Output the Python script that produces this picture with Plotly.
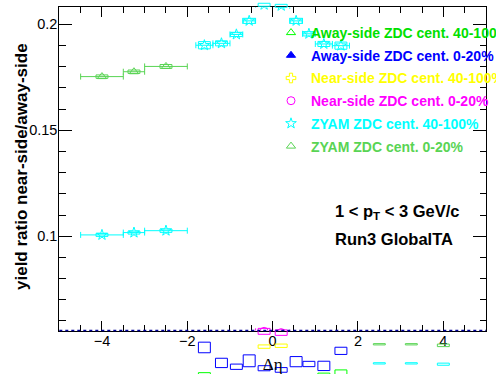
import plotly.graph_objects as go

# ---------------- data ----------------
# ZYAM ZDC cent. 0-20%
zyam020_x = [-4.0, -3.25, -2.5, 2.5, 3.25, 4.0]
zyam020_xerr = [0.5, 0.25, 0.5, 0.5, 0.25, 0.5]
zyam020_y = [0.1753, 0.1776, 0.1801, 0.0490, 0.0490, 0.0485]
zyam020_sys = [0.0008, 0.0008, 0.0009, 0.0003, 0.0003, 0.0006]

# ZYAM ZDC cent. 40-100%
zyam40_x = [-4.0, -3.25, -2.5, -1.6, -1.2, -0.85, -0.55, -0.2, 0.2, 0.55, 0.85, 1.2, 1.6, 2.5, 3.25, 4.0]
zyam40_xerr = [0.5, 0.25, 0.5, 0.2, 0.2, 0.15, 0.15, 0.2, 0.2, 0.15, 0.15, 0.2, 0.2, 0.5, 0.25, 0.5]
zyam40_y = [0.1006, 0.1017, 0.1026, 0.1901, 0.1910, 0.1952, 0.2016, 0.2092, 0.2087, 0.2016, 0.1955, 0.1907, 0.1899,
            0.0400, 0.0400, 0.0396]
zyam40_sys = [0.0007, 0.0007, 0.0008, 0.0017, 0.0012, 0.0010, 0.0012, 0.0007, 0.0007, 0.0012, 0.0010, 0.0012, 0.0017,
              0.0003, 0.0003, 0.0005]

# inner delta-eta bins
inner_x = [-1.6, -1.2, -0.85, -0.55, -0.2, 0.2, 0.55, 0.85, 1.2, 1.6]
inner_xerr = [0.2, 0.2, 0.15, 0.15, 0.2, 0.2, 0.15, 0.15, 0.2, 0.2]

# Away-side ZDC cent. 0-20%
away020_y = [0.0475, 0.0402, 0.0384, 0.0412, 0.0377, 0.0369, 0.0408, 0.0397, 0.0388, 0.0459]
away020_sys = [0.0025, 0.0022, 0.00125, 0.0028, 0.0012, 0.0011, 0.0024, 0.00125, 0.0022, 0.0017]

# Away-side ZDC cent. 40-100% (most boxes fall below the visible canvas)
away40_y = [0.0336, 0.0320, 0.0315, 0.0322, 0.0312, 0.0310, 0.0318, 0.0316, 0.0334, 0.0349]
away40_sys = [0.0020, 0.0018, 0.0012, 0.0020, 0.0010, 0.0010, 0.0018, 0.0012, 0.0020, 0.0020]

# Near-side (only the two central bins)
near_x = [-0.2, 0.2]
near_xerr = [0.2, 0.2]
near40_y = [0.0479, 0.0483]
near40_sys = [0.0008, 0.0008]
near020_y = [0.0551, 0.0545]
near020_sys = [0.0014, 0.0013]

# ---------------- styling / geometry ----------------
W, H = 496, 374
L, R, T, B = 59.3, 486.0, 7.3, 330.5
XMIN, XMAX = -5.0, 5.0
YMIN, YMAX = 0.0555, 0.208
BOXW = 0.14

px_x = (R - L) / (XMAX - XMIN)
px_y = (B - T) / (YMAX - YMIN)
X2 = [XMIN - L / px_x, XMAX + (W - R) / px_x]
Y2 = [YMIN - (H - B) / px_y, YMAX + T / px_y]

C_AWAY40 = "#00ff00"
C_AWAY020 = "#0000ff"
C_NEAR40 = "#ffff00"
C_NEAR020 = "#ff00ff"
C_ZYAM40 = "#00ffff"
C_ZYAM020 = "#59d454"
C_AWAY40_TXT = "#00e000"
C_NEAR40_TXT = "#ffff00"

FONT = "Liberation Sans"

fig = go.Figure()


def add_series(name, x, xerr, y, color, symbol, txtcolor=None):
    fig.add_trace(go.Scatter(
        x=x, y=y, mode="markers",
        name='<span style="color:%s">%s</span>' % (txtcolor or color, name), legendgroup=name,
        marker=dict(symbol=symbol, size=8, color=color, line=dict(color=color, width=1)),
        error_x=dict(type="data", array=xerr, width=3, thickness=1, color=color),
        xaxis="x", yaxis="y",
    ))


def add_boxes(x, y, sys, color):
    bx, by = [], []
    for xi, yi, si in zip(x, y, sys):
        bx += [xi - BOXW, xi + BOXW, xi + BOXW, xi - BOXW, xi - BOXW, None]
        by += [yi - si, yi - si, yi + si, yi + si, yi - si, None]
    fig.add_trace(go.Scatter(x=bx, y=by, mode="lines", line=dict(color=color, width=1),
                             showlegend=False, hoverinfo="skip", xaxis="x2", yaxis="y2"))


add_series("Away-side ZDC cent. 40-100%", inner_x, inner_xerr, away40_y, C_AWAY40, "triangle-up-open", C_AWAY40_TXT)
add_series("Away-side ZDC cent. 0-20%", inner_x, inner_xerr, away020_y, C_AWAY020, "triangle-up")
add_series("Near-side ZDC cent. 40-100%", near_x, near_xerr, near40_y, C_NEAR40, "cross-open", C_NEAR40_TXT)
add_series("Near-side ZDC cent. 0-20%", near_x, near_xerr, near020_y, C_NEAR020, "circle-open")
add_series("ZYAM ZDC cent. 40-100%", zyam40_x, zyam40_xerr, zyam40_y, C_ZYAM40, "star-open")
add_series("ZYAM ZDC cent. 0-20%", zyam020_x, zyam020_xerr, zyam020_y, C_ZYAM020, "triangle-up-open")

add_boxes(inner_x, away40_y, away40_sys, C_AWAY40)
add_boxes(inner_x, away020_y, away020_sys, C_AWAY020)
add_boxes(near_x, near40_y, near40_sys, C_NEAR40)
add_boxes(near_x, near020_y, near020_sys, C_NEAR020)
add_boxes(zyam40_x, zyam40_y, zyam40_sys, C_ZYAM40)
add_boxes(zyam020_x, zyam020_y, zyam020_sys, C_ZYAM020)

fig.add_shape(type="line", xref="x2", yref="y2", x0=XMIN, x1=XMAX, y0=YMIN, y1=YMIN,
              line=dict(color="#000099", width=1.5, dash="dot"))

axis_common = dict(showline=True, linecolor="black", linewidth=1, mirror="ticks", ticks="inside",
                   tickcolor="black", tickwidth=1, showgrid=False, zeroline=False, automargin=False,
                   tickfont=dict(family=FONT, size=14.5, color="black"))

fig.update_layout(
    template="none",
    width=W, height=H, autosize=False,
    margin=dict(l=0, r=0, t=0, b=0, pad=0, autoexpand=False),
    paper_bgcolor="white", plot_bgcolor="rgba(0,0,0,0)",
    xaxis=dict(domain=[L / W, R / W], anchor="y", range=[XMIN, XMAX], dtick=2, tick0=0, ticklen=10,
               ticklabelstandoff=-3,
               minor=dict(dtick=0.5, ticklen=6, ticks="inside", tickcolor="black"),
               title=dict(text="Δη", font=dict(family="Liberation Serif", size=17, color="black")),
               **axis_common),
    yaxis=dict(domain=[1 - B / H, 1 - T / H], anchor="x", range=[YMIN, YMAX], dtick=0.05, tick0=0, ticklen=13,
               ticklabelstandoff=-2,
               minor=dict(dtick=0.01, ticklen=6.5, ticks="inside", tickcolor="black"),
               **axis_common),
    xaxis2=dict(domain=[0, 1], anchor="y2", range=X2, visible=False, fixedrange=True),
    yaxis2=dict(domain=[0, 1], anchor="x2", range=Y2, visible=False, fixedrange=True),
    showlegend=True,
    legend=dict(x=271 / W, y=1 - 17 / H, xanchor="left", yanchor="top", bgcolor="rgba(0,0,0,0)",
                borderwidth=0, tracegroupgap=1.5,
                font=dict(family=FONT, size=14, color="black", weight="bold")),
    annotations=[
        dict(x=21 / W, y=1 - 167 / H, xref="paper", yref="paper", xanchor="center", yanchor="middle",
             showarrow=False, textangle=-90, text="yield ratio near-side/away-side",
             font=dict(family=FONT, size=17, color="black", weight="bold")),
        dict(x=1.41, y=0.1113, xref="x", yref="y", xanchor="left", yanchor="middle", showarrow=False,
             text="1 &lt; p<sub>T</sub> &lt; 3 GeV/c", font=dict(family=FONT, size=16.5, color="black", weight="bold")),
        dict(x=1.41, y=0.0985, xref="x", yref="y", xanchor="left", yanchor="middle", showarrow=False,
             text="Run3 GlobalTA", font=dict(family=FONT, size=16.5, color="black", weight="bold")),
    ],
)

fig.write_html("out.html", config={"displayModeBar": False},
               post_script="document.body.style.margin='0';document.body.style.overflow='hidden';")
